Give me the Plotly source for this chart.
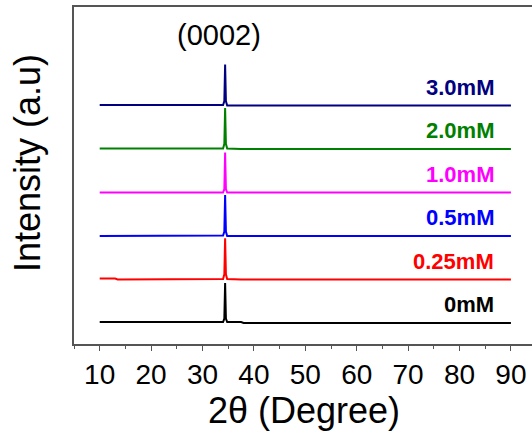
import plotly.graph_objects as go

# 2-theta grid (degrees)
two_theta = [10, 13, 13.5, 30, 34.0, 34.25, 34.4, 34.55, 34.8, 37.5, 38, 50, 62.8, 63, 63.2, 72.8, 73, 73.2, 90]

# normalised intensities for each sample
i_0mM   = [0.02, 0.02, 0.02, 0.02, 0.02, 0.10, 0.92, 0.10, 0.02, 0.02, 0.00, 0.00, 0.00, 0.01, 0.00, 0.00, 0.01, 0.00, 0.00]
i_025mM = [0.02, 0.02, 0.00, 0.00, 0.01, 0.12, 0.95, 0.12, 0.01, 0.00, 0.00, 0.00, 0.00, 0.01, 0.00, 0.00, 0.01, 0.00, 0.00]
i_05mM  = [0.00, 0.00, 0.00, 0.00, 0.01, 0.10, 0.94, 0.10, 0.00, 0.00, 0.00, 0.00, 0.00, 0.00, 0.00, 0.00, 0.00, 0.00, 0.00]
i_1mM   = [0.00, 0.00, 0.00, 0.00, 0.00, 0.08, 0.92, 0.08, 0.00, 0.00, 0.00, 0.00, 0.00, 0.00, 0.00, 0.00, 0.00, 0.00, 0.00]
i_2mM   = [0.01, 0.01, 0.00, 0.00, 0.01, 0.12, 0.94, 0.12, 0.01, 0.00, 0.00, 0.00, 0.00, 0.01, 0.00, 0.00, 0.01, 0.00, 0.00]
i_3mM   = [0.01, 0.01, 0.00, 0.00, 0.01, 0.10, 0.94, 0.10, 0.00, 0.00, 0.00, 0.00, 0.00, 0.00, 0.00, 0.00, 0.00, 0.00, 0.00]

labels = ["0mM", "0.25mM", "0.5mM", "1.0mM", "2.0mM", "3.0mM"]
series = [i_0mM, i_025mM, i_05mM, i_1mM, i_2mM, i_3mM]
colors = ["#000000", "#FF0000", "#0000FF", "#FF00FF", "#008000", "#000080"]
offsets = [0, 1, 2, 3, 4, 5]

x_ticks = [10, 20, 30, 40, 50, 60, 70, 80, 90]
peak_label = "(0002)"
x_title = "2θ (Degree)"
y_title = "Intensity (a.u)"

fig = go.Figure()
for lab, ys, col, off in zip(labels, series, colors, offsets):
    fig.add_trace(go.Scatter(x=two_theta, y=[v + off for v in ys], mode="lines",
                             line=dict(color=col, width=2), name=lab, showlegend=False))
    fig.add_annotation(x=87, y=off + 0.42, text="<b>%s</b>" % lab, showarrow=False,
                       xanchor="right", yanchor="middle",
                       font=dict(family="Liberation Sans, Arial", size=22, color=col))

fig.add_annotation(x=33.2, y=6.62, text=peak_label, showarrow=False,
                   xanchor="center", yanchor="middle",
                   font=dict(family="Liberation Sans, Arial", size=29, color="black"))

# axis titles
fig.add_annotation(xref="paper", yref="paper", x=0.502, y=-0.196, text=x_title,
                   showarrow=False, xanchor="center", yanchor="middle",
                   font=dict(family="Liberation Sans, Arial", size=36, color="black"))
fig.add_annotation(xref="paper", yref="paper", x=-0.1026, y=0.537, text=y_title,
                   showarrow=False, xanchor="center", yanchor="middle", textangle=-90,
                   font=dict(family="Liberation Sans, Arial", size=36, color="black"))

fig.update_layout(
    width=532, height=433,
    margin=dict(l=74, r=0, t=7, b=89),
    plot_bgcolor="white", paper_bgcolor="white",
    font=dict(family="Liberation Sans, Arial", color="black"),
    xaxis=dict(range=[5, 94.1], tickvals=x_ticks, ticks="outside", ticklen=5, tickwidth=1,
               tickcolor="#555", showline=True, linecolor="#555", linewidth=1.5, mirror=True,
               showgrid=False, zeroline=False, tickfont=dict(size=28), automargin=False,
               minor=dict(dtick=5, tick0=5, ticks="outside", ticklen=3, tickcolor="#555")),
    yaxis=dict(range=[-0.483, 7.264], showticklabels=False, ticks="", showline=True,
               linecolor="#555", linewidth=1.5, showgrid=False, zeroline=False, automargin=False),
)

fig.write_html("out.html", config={"displayModeBar": False},
               post_script="document.body.style.margin='0';document.body.style.overflow='hidden';")
